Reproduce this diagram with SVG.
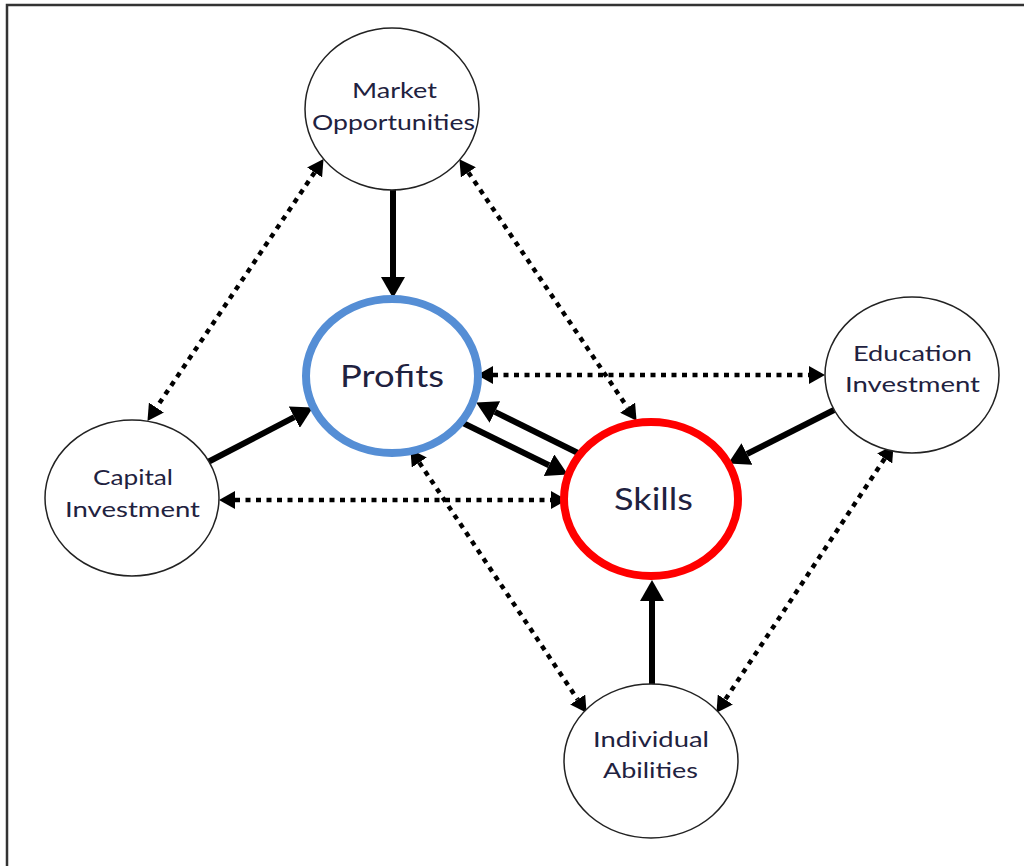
<svg xmlns="http://www.w3.org/2000/svg" width="1024" height="866" viewBox="0 0 1024 866">
<defs>
<style>
.node{fill:#fff;stroke:#222;stroke-width:1.5}
.lbl{font-family:Lato,"Open Sans","Liberation Sans",sans-serif;font-size:20.5px;fill:#1f2240;text-anchor:middle}
.big{font-size:31px}
.solid{stroke:#000;stroke-width:6;fill:none;marker-end:url(#headBig)}
.dot{stroke:#000;stroke-width:4.5;fill:none;stroke-dasharray:5 5.5;marker-start:url(#headSmall);marker-end:url(#headSmall)}
</style>
<marker id="headBig" markerUnits="userSpaceOnUse" markerWidth="22" markerHeight="24" refX="0" refY="12" orient="auto-start-reverse" viewBox="0 0 22 24"><path d="M0,0 L21,12 L0,24 Z" fill="#000"/></marker>
<marker id="headSmall" markerUnits="userSpaceOnUse" markerWidth="16" markerHeight="18" refX="0" refY="9" orient="auto-start-reverse" viewBox="0 0 16 18"><path d="M0,0 L16,9 L0,18 Z" fill="#000"/></marker>
</defs>
<rect x="0" y="0" width="1024" height="866" fill="#fff"/>
<rect x="7" y="5" width="1040" height="900" fill="none" stroke="#333" stroke-width="2.5"/>

<g id="connectors">
<line class="solid" x1="393" y1="190" x2="393" y2="277"/>
<line class="solid" x1="208" y1="462" x2="294.3" y2="417.2"/>
<line class="solid" x1="463" y1="423" x2="549" y2="465.2"/>
<line class="solid" x1="580" y1="454" x2="494.9" y2="411.9"/>
<line class="solid" x1="834" y1="410" x2="746.9" y2="454"/>
<line class="solid" x1="652" y1="686" x2="652" y2="601"/>
<line class="dot" x1="314.6" y1="172.4" x2="156.4" y2="407.6"/>
<line class="dot" x1="468.4" y1="172.4" x2="627.6" y2="407.6"/>
<line class="dot" x1="493" y1="375" x2="809" y2="375"/>
<line class="dot" x1="235" y1="500" x2="551" y2="500"/>
<line class="dot" x1="419.3" y1="462.5" x2="577.7" y2="699.5"/>
<line class="dot" x1="884.7" y1="458.5" x2="725.3" y2="699.5"/>
</g>

<g id="market">
<ellipse class="node" cx="392" cy="109" rx="87" ry="81"/>
<text class="lbl" x="394.5" y="98" textLength="85" lengthAdjust="spacingAndGlyphs">Market</text>
<text class="lbl" x="393.5" y="130" textLength="163" lengthAdjust="spacingAndGlyphs">Opportunities</text>
</g>
<g id="profits">
<ellipse cx="392" cy="376" rx="86" ry="77" fill="#fff" stroke="#558ed5" stroke-width="8"/>
<text class="lbl big" x="392" y="387" textLength="104" lengthAdjust="spacingAndGlyphs">Profits</text>
</g>
<g id="skills">
<ellipse cx="651" cy="499" rx="87" ry="77" fill="#fff" stroke="#ff0000" stroke-width="8"/>
<text class="lbl big" x="653.5" y="510" textLength="79" lengthAdjust="spacingAndGlyphs">Skills</text>
</g>
<g id="capital">
<ellipse class="node" cx="132" cy="498" rx="87" ry="78"/>
<text class="lbl" x="133" y="485" textLength="80" lengthAdjust="spacingAndGlyphs">Capital</text>
<text class="lbl" x="132.5" y="517" textLength="135" lengthAdjust="spacingAndGlyphs">Investment</text>
</g>
<g id="education">
<ellipse class="node" cx="912" cy="375" rx="87" ry="78"/>
<text class="lbl" x="912.5" y="361" textLength="119" lengthAdjust="spacingAndGlyphs">Education</text>
<text class="lbl" x="912.5" y="392" textLength="135" lengthAdjust="spacingAndGlyphs">Investment</text>
</g>
<g id="individual">
<ellipse class="node" cx="651" cy="761" rx="87" ry="77"/>
<text class="lbl" x="651" y="747" textLength="116" lengthAdjust="spacingAndGlyphs">Individual</text>
<text class="lbl" x="650.5" y="778" textLength="95" lengthAdjust="spacingAndGlyphs">Abilities</text>
</g>
</svg>
